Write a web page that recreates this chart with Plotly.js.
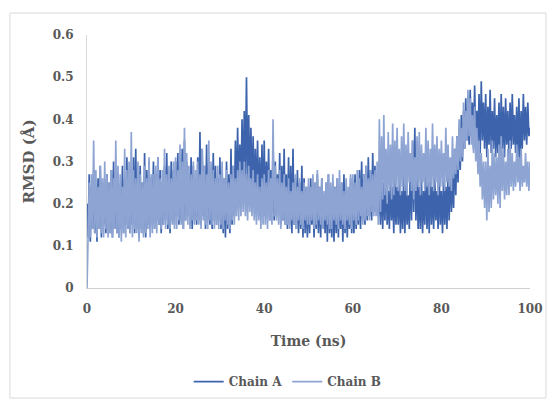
<!DOCTYPE html>
<html>
<head>
<meta charset="utf-8">
<script src="https://cdn.plot.ly/plotly-3.0.1.min.js"></script>
<style>
html,body{margin:0;padding:0;background:#fff;}
#chart{width:548px;height:400px;}
</style>
</head>
<body>
<div id="chart"></div>
<script>
// Time axis: 0 to 100 ns, one sample every 0.25 ns (401 samples)
const timeStart = 0;
const timeStep = 0.25;

// Chain A RMSD (Å)
const chainA = [
  0.20,0.12,0.27,0.11,0.24,0.14,0.28,0.13,0.22,0.11,0.26,0.14,0.29,0.12,0.25,0.15,0.23,0.13,0.27,0.14,
  0.25,0.13,0.28,0.12,0.30,0.14,0.24,0.13,0.27,0.12,0.23,0.14,0.29,0.13,0.26,0.15,0.31,0.14,0.28,0.13,
  0.26,0.15,0.31,0.13,0.33,0.14,0.27,0.12,0.29,0.14,0.25,0.13,0.32,0.12,0.28,0.15,0.30,0.14,0.26,0.15,
  0.30,0.14,0.27,0.16,0.31,0.15,0.28,0.13,0.25,0.15,0.29,0.16,0.32,0.14,0.27,0.13,0.30,0.16,0.28,0.15,
  0.30,0.17,0.32,0.15,0.28,0.16,0.33,0.14,0.35,0.16,0.30,0.17,0.27,0.15,0.31,0.14,0.29,0.16,0.26,0.15,
  0.31,0.16,0.37,0.15,0.33,0.17,0.29,0.14,0.34,0.16,0.30,0.15,0.27,0.14,0.32,0.16,0.29,0.15,0.26,0.16,
  0.31,0.14,0.28,0.13,0.26,0.12,0.30,0.14,0.27,0.13,0.33,0.15,0.29,0.17,0.35,0.19,0.38,0.21,0.34,0.22,
  0.40,0.24,0.42,0.26,0.50,0.25,0.41,0.23,0.38,0.22,0.36,0.21,0.33,0.20,0.35,0.19,0.31,0.18,0.34,0.17,
  0.35,0.17,0.30,0.19,0.33,0.16,0.28,0.18,0.34,0.16,0.30,0.17,0.27,0.18,0.32,0.15,0.29,0.16,0.33,0.15,
  0.27,0.14,0.31,0.15,0.29,0.13,0.33,0.15,0.26,0.14,0.28,0.13,0.25,0.14,0.29,0.12,0.26,0.13,0.24,0.12,
  0.24,0.13,0.26,0.15,0.23,0.12,0.25,0.14,0.27,0.13,0.24,0.12,0.26,0.14,0.22,0.13,0.25,0.11,0.27,0.13,
  0.22,0.12,0.25,0.11,0.24,0.13,0.26,0.12,0.23,0.14,0.25,0.11,0.27,0.13,0.24,0.12,0.22,0.14,0.26,0.13,
  0.25,0.13,0.27,0.14,0.24,0.15,0.28,0.14,0.30,0.16,0.27,0.15,0.29,0.16,0.31,0.17,0.28,0.16,0.32,0.18,
  0.29,0.18,0.26,0.17,0.24,0.15,0.27,0.14,0.25,0.16,0.28,0.15,0.23,0.14,0.26,0.16,0.24,0.13,0.27,0.15,
  0.24,0.15,0.26,0.13,0.23,0.14,0.27,0.13,0.25,0.15,0.22,0.14,0.30,0.16,0.35,0.18,0.38,0.16,0.28,0.14,
  0.24,0.14,0.26,0.13,0.23,0.15,0.27,0.14,0.25,0.13,0.28,0.15,0.24,0.14,0.26,0.16,0.23,0.14,0.27,0.15,
  0.23,0.13,0.26,0.15,0.24,0.14,0.28,0.16,0.30,0.18,0.27,0.19,0.33,0.22,0.36,0.25,0.38,0.28,0.41,0.30,
  0.42,0.33,0.45,0.35,0.43,0.34,0.47,0.36,0.44,0.33,0.48,0.35,0.42,0.34,0.46,0.32,0.49,0.35,0.44,0.33,
  0.46,0.31,0.43,0.34,0.47,0.32,0.42,0.33,0.45,0.31,0.41,0.32,0.44,0.30,0.46,0.33,0.43,0.31,0.45,0.34,
  0.42,0.31,0.44,0.33,0.46,0.34,0.41,0.32,0.43,0.31,0.45,0.30,0.42,0.33,0.46,0.35,0.43,0.34,0.44,0.36,
  0.38
];

// Chain B RMSD (Å)
const chainB = [
  0.00,0.13,0.25,0.12,0.27,0.14,0.35,0.13,0.28,0.12,0.24,0.14,0.29,0.13,0.26,0.12,0.30,0.14,0.27,0.12,
  0.25,0.13,0.28,0.12,0.26,0.14,0.35,0.13,0.29,0.12,0.27,0.11,0.24,0.13,0.33,0.12,0.28,0.14,0.30,0.13,
  0.37,0.12,0.28,0.14,0.26,0.13,0.30,0.11,0.27,0.13,0.25,0.12,0.29,0.13,0.26,0.14,0.31,0.12,0.27,0.13,
  0.27,0.14,0.29,0.13,0.31,0.15,0.26,0.14,0.28,0.15,0.33,0.14,0.27,0.15,0.29,0.14,0.26,0.15,0.30,0.14,
  0.31,0.14,0.28,0.16,0.34,0.15,0.30,0.14,0.38,0.16,0.32,0.15,0.29,0.14,0.27,0.16,0.30,0.15,0.28,0.16,
  0.30,0.15,0.27,0.14,0.33,0.16,0.29,0.15,0.27,0.14,0.35,0.16,0.30,0.15,0.28,0.14,0.26,0.15,0.29,0.14,
  0.27,0.15,0.30,0.14,0.26,0.16,0.28,0.15,0.25,0.14,0.27,0.16,0.29,0.15,0.26,0.17,0.28,0.16,0.30,0.17,
  0.28,0.18,0.30,0.17,0.27,0.16,0.29,0.18,0.26,0.17,0.28,0.16,0.25,0.15,0.27,0.16,0.24,0.14,0.26,0.15,
  0.27,0.15,0.25,0.14,0.28,0.16,0.26,0.15,0.40,0.17,0.29,0.16,0.26,0.15,0.28,0.14,0.25,0.16,0.27,0.15,
  0.24,0.15,0.26,0.14,0.23,0.16,0.25,0.15,0.27,0.14,0.24,0.16,0.26,0.15,0.23,0.14,0.25,0.16,0.24,0.15,
  0.26,0.15,0.24,0.16,0.27,0.14,0.25,0.15,0.28,0.16,0.24,0.15,0.26,0.14,0.23,0.16,0.25,0.15,0.27,0.14,
  0.25,0.14,0.27,0.16,0.24,0.15,0.26,0.14,0.28,0.16,0.25,0.15,0.23,0.14,0.26,0.16,0.24,0.15,0.27,0.14,
  0.27,0.16,0.25,0.15,0.28,0.16,0.26,0.17,0.24,0.15,0.27,0.16,0.29,0.17,0.26,0.16,0.28,0.18,0.27,0.17,
  0.28,0.17,0.30,0.15,0.40,0.18,0.36,0.21,0.41,0.22,0.33,0.20,0.37,0.23,0.34,0.21,0.39,0.22,0.35,0.24,
  0.38,0.23,0.33,0.22,0.36,0.24,0.39,0.23,0.34,0.22,0.37,0.25,0.32,0.23,0.35,0.21,0.31,0.23,0.36,0.24,
  0.37,0.22,0.34,0.25,0.32,0.23,0.38,0.24,0.35,0.22,0.33,0.24,0.39,0.23,0.34,0.25,0.36,0.22,0.33,0.24,
  0.35,0.24,0.32,0.23,0.38,0.25,0.34,0.24,0.31,0.23,0.36,0.26,0.33,0.27,0.36,0.28,0.40,0.30,0.38,0.31,
  0.44,0.33,0.42,0.35,0.47,0.36,0.45,0.34,0.41,0.32,0.43,0.30,0.38,0.27,0.35,0.24,0.32,0.21,0.30,0.19,
  0.30,0.16,0.33,0.18,0.29,0.19,0.35,0.21,0.32,0.22,0.31,0.20,0.34,0.19,0.36,0.23,0.33,0.21,0.30,0.22,
  0.33,0.22,0.35,0.24,0.32,0.23,0.30,0.24,0.34,0.25,0.31,0.23,0.33,0.24,0.29,0.25,0.32,0.24,0.30,0.23,
  0.30
];

const seriesNames = ["Chain A", "Chain B"];
const xTickVals = [0, 20, 40, 60, 80, 100];
const yTickVals = [0, 0.1, 0.2, 0.3, 0.4, 0.5, 0.6];

const timeA = chainA.map((_, i) => timeStart + i * timeStep);
const timeB = chainB.map((_, i) => timeStart + i * timeStep);

const fontFam = "DejaVu Serif, Georgia, serif";
const textCol = "#595959";

const traces = [
  {x: timeA, y: chainA, name: seriesNames[0], type: "scatter", mode: "lines",
   line: {color: "#3C63AC", width: 1.7}},
  {x: timeB, y: chainB, name: seriesNames[1], type: "scatter", mode: "lines",
   line: {color: "#8EA4D3", width: 1.7}}
];

const layout = {
  width: 548, height: 400,
  margin: {l: 87, r: 18, t: 35, b: 112},
  paper_bgcolor: "#fff", plot_bgcolor: "#fff",
  showlegend: true,
  legend: {orientation: "h", xref: "container", yref: "container",
           x: 0.525, xanchor: "center", y: 0.082, yanchor: "top",
           font: {family: fontFam, size: 12, color: textCol, weight: "bold"},
           itemwidth: 30, tracegroupgap: 0},
  xaxis: {range: [0, 100], tickvals: xTickVals, showgrid: false, zeroline: false,
          automargin: false,
          showline: true, linecolor: "#d0d0d0", linewidth: 1,
          ticks: "outside", ticklen: 10, tickcolor: "rgba(0,0,0,0)",
          tickfont: {family: fontFam, size: 12, color: textCol, weight: "bold"},
          title: {text: "Time (ns)", standoff: 20,
                  font: {family: fontFam, size: 14, color: textCol, weight: "bold"}}},
  yaxis: {range: [0, 0.6], tickvals: yTickVals, showgrid: false, zeroline: false,
          automargin: false,
          showline: true, linecolor: "#d9d9d9", linewidth: 1,
          ticks: "outside", ticklen: 10, tickcolor: "rgba(0,0,0,0)",
          tickfont: {family: fontFam, size: 12, color: textCol, weight: "bold"},
          title: {text: "RMSD (Å)", standoff: 14,
                  font: {family: fontFam, size: 15, color: textCol, weight: "bold"}}},
  shapes: [{type: "rect", xref: "paper", yref: "paper",
            x0: -0.174, x1: 1.036, y0: -0.435, y1: 1.087,
            line: {color: "#d9d9d9", width: 1}, fillcolor: "rgba(0,0,0,0)", layer: "below"}]
};

Plotly.newPlot("chart", traces, layout, {displayModeBar: false, staticPlot: true});
</script>
</body>
</html>
